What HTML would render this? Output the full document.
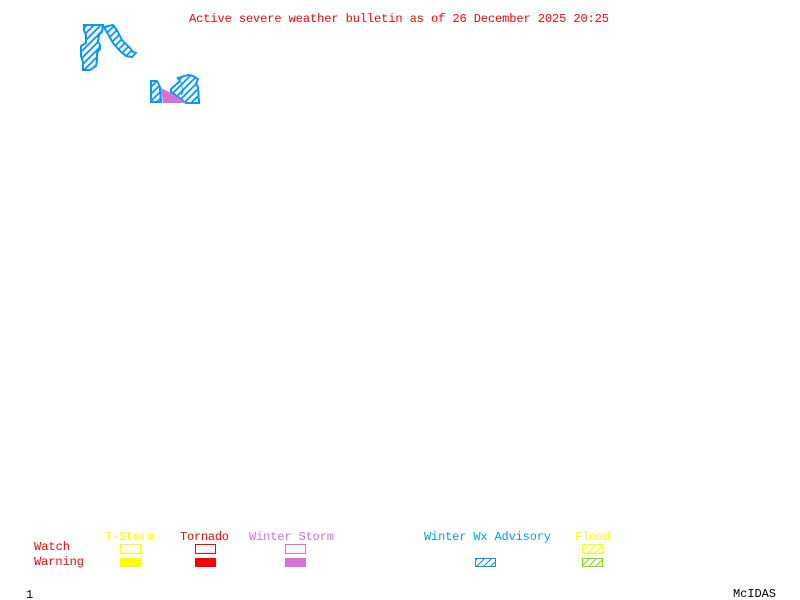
<!DOCTYPE html>
<html>
<head>
<meta charset="utf-8">
<style>
html,body{margin:0;padding:0;background:#fff}
svg{display:block;position:absolute;left:0;top:0}
text{font-family:"Liberation Mono",monospace;font-size:12px}
</style>
</head>
<body>
<svg width="800" height="600" viewBox="0 0 800 600" xmlns="http://www.w3.org/2000/svg" shape-rendering="crispEdges">
<defs>
<pattern id="hb" width="7" height="7" patternUnits="userSpaceOnUse"><path d="M-2 9L9 -2M-2 2L2 -2M5 9L9 5" stroke="#0099ff" stroke-width="1.5" fill="none"/></pattern>
<pattern id="hm" width="7" height="7" patternUnits="userSpaceOnUse"><path d="M-2 9L9 -2M-2 2L2 -2M5 9L9 5" stroke="#0099ff" stroke-width="1.2" fill="none"/></pattern>
<pattern id="hy" width="7" height="7" patternUnits="userSpaceOnUse"><path d="M-2 9L9 -2M-2 2L2 -2M5 9L9 5" stroke="#ffff00" stroke-width="1.2" fill="none"/></pattern>
<pattern id="hg" width="7" height="7" patternUnits="userSpaceOnUse"><path d="M-2 9L9 -2M-2 2L2 -2M5 9L9 5" stroke="#7fdc00" stroke-width="1.2" fill="none"/></pattern>
</defs>

<text x="189" y="22" fill="#ff0000" textLength="420" lengthAdjust="spacing">Active severe weather bulletin as of 26 December 2025 20:25</text>

<g fill="url(#hb)" stroke="#0099ff" stroke-width="2">
<polygon points="84,25 103,25 102,32 99,35 98,41 100,45 100,49 97,53 97,60 96,66 90,70 83,70 83,62 81,56 81,46 86,43 86,35 84,30"/>
<polygon points="104,27 113,25 118,32 122,40 129,47 133,52 136,53 132,57 126,56 120,51 113,43 108,34"/>
<polygon points="151,81 157,81 160,87 161,102 151,102 151,92"/>
<polygon points="171,89 180,81 178,78 188,75 193,76 198,79 196,84 198,87 199,103 186,103 171,92"/>
<polyline points="181,82 183,92 181,95" fill="none" stroke-width="1"/>
</g>
<polygon points="161,88 171,93 186,103 163,103" fill="#da70d6"/>

<text x="105" y="540" fill="#ffff00" textLength="49">T-Storm</text>
<text x="180" y="540" fill="#ff0000" textLength="49">Tornado</text>
<text x="249" y="540" fill="#da70d6" textLength="85">Winter Storm</text>
<text x="424" y="540" fill="#0099ff" textLength="127">Winter Wx Advisory</text>
<text x="575" y="540" fill="#ffff00" textLength="35">Flood</text>
<text x="34" y="550" fill="#ff0000" textLength="36">Watch</text>
<text x="34" y="565" fill="#ff0000" textLength="50">Warning</text>

<rect x="120" y="544" width="21" height="10" fill="#ffff00"/><rect x="121" y="545" width="19" height="8" fill="#fff"/>
<rect x="195" y="544" width="21" height="10" fill="#ff0000"/><rect x="196" y="545" width="19" height="8" fill="#fff"/>
<rect x="285" y="544" width="21" height="10" fill="#da70d6"/><rect x="286" y="545" width="19" height="8" fill="#fff"/>
<rect x="120" y="558" width="21" height="9" fill="#ffff00"/>
<rect x="195" y="558" width="21" height="9" fill="#ff0000"/>
<rect x="285" y="558" width="21" height="9" fill="#da70d6"/>
<rect x="475.5" y="558.5" width="20" height="8" fill="url(#hm)" stroke="#0099ff"/>
<rect x="582.5" y="544.5" width="20" height="9" fill="url(#hy)" stroke="#ffff00"/>
<rect x="582.5" y="558.5" width="20" height="8" fill="url(#hg)" stroke="#7fdc00"/>

<text x="26" y="598" fill="#000000">1</text>
<text x="733" y="597" fill="#000000" textLength="43">McIDAS</text>
</svg>
</body>
</html>
